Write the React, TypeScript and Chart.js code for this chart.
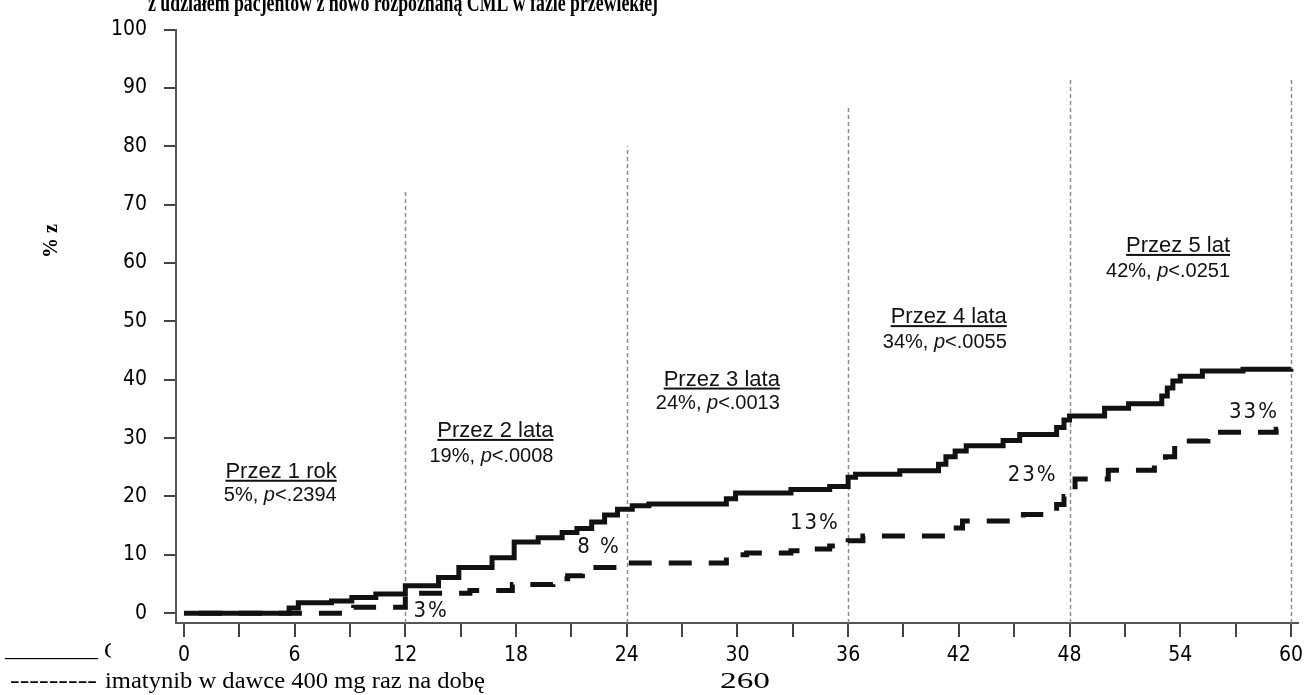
import React, { useEffect, useRef } from "react";
import { Chart, registerables } from "chart.js";

Chart.register(...registerables);

// ---- data ----
const solidMonths = [0, 5.7, 6.2, 8.0, 9.1, 10.4, 12.0, 13.8, 14.9, 16.7, 17.9, 19.2, 20.5, 21.3, 22.1, 22.8, 23.5, 24.3, 25.2, 29.4, 29.9, 32.9, 35.0, 36.0, 36.4, 38.8, 40.9, 41.3, 41.8, 42.4, 44.4, 45.3, 47.3, 47.7, 48.0, 49.9, 51.2, 53.0, 53.3, 53.6, 54.0, 55.2, 57.4, 60.0];
const solidValues = [0, 0.9, 1.8, 2.1, 2.7, 3.3, 4.7, 6.1, 7.8, 9.5, 12.2, 12.9, 13.8, 14.5, 15.6, 16.8, 17.8, 18.4, 18.7, 19.6, 20.6, 21.2, 21.7, 23.3, 23.8, 24.4, 25.5, 26.8, 27.8, 28.7, 29.6, 30.6, 31.8, 33.1, 33.8, 35.1, 35.9, 37.2, 38.6, 39.8, 40.6, 41.5, 41.8, 41.9];

const dashedMonths = [0, 9.2, 12.0, 15.5, 17.8, 20.0, 20.8, 21.6, 23.6, 29.4, 30.5, 32.9, 34.0, 35.0, 36.0, 36.8, 41.7, 42.2, 45.5, 47.3, 47.7, 48.0, 48.3, 50.1, 52.6, 53.2, 53.7, 54.3, 55.5, 59.2, 59.4];
const dashedValues = [0, 1.0, 3.4, 3.9, 4.9, 5.9, 6.4, 7.8, 8.6, 10.0, 10.3, 10.7, 11.0, 11.5, 12.4, 13.2, 14.6, 15.8, 16.9, 18.6, 20.0, 20.8, 23.0, 24.5, 25.6, 26.8, 29.0, 29.5, 31.0, 31.5, 31.5];

const xTickValues = [0, 3, 6, 9, 12, 15, 18, 21, 24, 27, 30, 33, 36, 39, 42, 45, 48, 51, 54, 57, 60];
const xLabelValues = [0, 6, 12, 18, 24, 30, 36, 42, 48, 54, 60];
const yTickValues = [0, 10, 20, 30, 40, 50, 60, 70, 80, 90, 100];

const landmarkMonths = [12, 24, 36, 48, 60];
const landmarkTops = [72.5, 80, 87, 91.5, 91.5];

const annotTitles = ["Przez 1 rok", "Przez 2 lata", "Przez 3 lata", "Przez 4 lata", "Przez 5 lat"];
const annotPercents = ["5%", "19%", "24%", "34%", "42%"];
const annotPValues = ["<.2394", "<.0008", "<.0013", "<.0055", "<.0251"];
const annotRightMonth = [8.28, 20.03, 32.3, 44.6, 56.7];
const annotTitleLevel = [23.2, 30.2, 39.0, 49.7, 61.9];
const annotValueLevel = [19.3, 25.9, 34.9, 45.4, 57.6];

const pctLabels = ["3%", "8 %", "13%", "23%", "33%"];
const pctMonths = [13.4, 22.5, 34.2, 46.0, 58.0];
const pctLevels = [0.3, 11.3, 15.4, 23.6, 34.4];

const titleText = "z udziałem pacjentów z nowo rozpoznaną CML w fazie przewlekłej";
const yTitleText = "% z";
const legendSolidMark = "_______";
const legendSolidText = "C";
const legendDashMark = "---------";
const legendDashText = "imatynib w dawce 400 mg raz na dobę";
const legendExtra = "260";

const NARROW = '"Liberation Sans Narrow", "Arial Narrow", "DejaVu Sans Condensed", sans-serif';
const SANS = '"Liberation Sans", Arial, sans-serif';
const SERIF = '"Liberation Serif", "Times New Roman", serif';

function fitText(ctx: CanvasRenderingContext2D, text: string, x: number, y: number, width: number, font: string) {
  ctx.save();
  ctx.font = font;
  ctx.textAlign = "left";
  ctx.textBaseline = "alphabetic";
  const w = ctx.measureText(text).width;
  ctx.translate(x, y);
  ctx.scale(width / w, 1);
  ctx.fillText(text, 0, 0);
  ctx.restore();
}

const decorPlugin = {
  id: "decor",
  beforeDatasetsDraw(chart: any) {
    const { ctx, scales } = chart;
    const x = scales.x;
    const y = scales.y;
    ctx.save();
    ctx.strokeStyle = "#8c8c8c";
    ctx.lineWidth = 1.5;
    ctx.setLineDash([4, 3]);
    landmarkMonths.forEach((m, i) => {
      const px = Math.round(x.getPixelForValue(m)) + 0.5;
      ctx.beginPath();
      ctx.moveTo(px, y.bottom);
      ctx.lineTo(px, y.getPixelForValue(landmarkTops[i]));
      ctx.stroke();
    });
    ctx.restore();
  },
  afterDatasetsDraw(chart: any) {
    const { ctx, scales } = chart;
    const x = scales.x;
    const y = scales.y;
    ctx.save();
    ctx.fillStyle = "#111";
    annotTitles.forEach((t, i) => {
      const rx = x.getPixelForValue(annotRightMonth[i]);
      const ty = y.getPixelForValue(annotTitleLevel[i]);
      ctx.font = `22px ${SANS}`;
      ctx.textAlign = "right";
      ctx.textBaseline = "alphabetic";
      ctx.fillText(t, rx, ty);
      const tw = ctx.measureText(t).width;
      ctx.fillRect(rx - tw, ty + 2, tw, 2);
      const vy = y.getPixelForValue(annotValueLevel[i]);
      const parts = [
        { s: annotPercents[i] + ", ", f: `20px ${SANS}` },
        { s: "p", f: `italic 20px ${SANS}` },
        { s: annotPValues[i], f: `20px ${SANS}` },
      ];
      let total = 0;
      parts.forEach((p) => {
        ctx.font = p.f;
        total += ctx.measureText(p.s).width;
      });
      let cx = rx - total;
      ctx.textAlign = "left";
      parts.forEach((p) => {
        ctx.font = p.f;
        ctx.fillText(p.s, cx, vy);
        cx += ctx.measureText(p.s).width;
      });
    });
    ctx.font = `22px ${NARROW}`;
    (ctx as any).letterSpacing = "2px";
    ctx.textAlign = "center";
    ctx.textBaseline = "middle";
    pctLabels.forEach((t, i) => {
      ctx.fillText(t, x.getPixelForValue(pctMonths[i]), y.getPixelForValue(pctLevels[i]));
    });
    (ctx as any).letterSpacing = "0px";
    ctx.restore();
  },
  afterDraw(chart: any) {
    const { ctx } = chart;
    ctx.save();
    ctx.fillStyle = "#000";
    // cropped title (only its lower part is visible at the top edge)
    fitText(ctx, titleText, 148, 11, 510, `bold 26px ${SERIF}`);
    // y title rotated
    ctx.save();
    ctx.translate(52, 258);
    ctx.rotate(-Math.PI / 2);
    ctx.font = `bold 20px ${SERIF}`;
    ctx.textAlign = "left";
    ctx.textBaseline = "middle";
    ctx.fillText(yTitleText, 0, 0);
    ctx.restore();
    // legend
    fitText(ctx, legendSolidMark, 5, 656, 93, `24px ${SERIF}`);
    ctx.save();
    ctx.beginPath();
    ctx.rect(100, 630, 11, 40);
    ctx.clip();
    ctx.font = `24px ${SERIF}`;
    ctx.fillText(legendSolidText, 104, 658);
    ctx.restore();
    fitText(ctx, legendDashMark, 10, 688, 87, `24px ${SERIF}`);
    fitText(ctx, legendDashText, 105, 688, 380, `24px ${SERIF}`);
    fitText(ctx, legendExtra, 720, 688, 50, `24px ${SERIF}`);
    ctx.restore();
  },
};

export default function App() {
  const canvasRef = useRef<HTMLCanvasElement | null>(null);

  useEffect(() => {
    const canvas = canvasRef.current;
    if (!canvas) return;
    const tickFont = { family: NARROW, size: 21 };
    const chart = new Chart(canvas, {
      type: "line",
      data: {
        datasets: [
          {
            label: "solid",
            data: solidMonths.map((m, i) => ({ x: m, y: solidValues[i] })),
            borderColor: "#111",
            borderWidth: 5,
            pointRadius: 0,
            stepped: true,
            fill: false,
            borderCapStyle: "butt",
            borderJoinStyle: "miter",
          },
          {
            label: "imatynib w dawce 400 mg raz na dobę",
            data: dashedMonths.map((m, i) => ({ x: m, y: dashedValues[i] })),
            borderColor: "#111",
            borderWidth: 5,
            borderDash: [23, 17],
            borderDashOffset: 25,
            pointRadius: 0,
            stepped: true,
            fill: false,
            borderCapStyle: "butt",
            borderJoinStyle: "miter",
          },
        ],
      },
      options: {
        responsive: false,
        maintainAspectRatio: false,
        animation: false,
        layout: { padding: { left: 0, top: 23, right: 9, bottom: 0 } },
        plugins: { legend: { display: false }, tooltip: { enabled: false } },
        scales: {
          x: {
            type: "linear",
            min: -0.43,
            max: 60.38,
            afterBuildTicks: (s: any) => {
              s.ticks = xTickValues.map((v) => ({ value: v }));
            },
            afterFit: (s: any) => {
              s.height = 72;
            },
            grid: { drawOnChartArea: false, drawTicks: true, tickLength: 14, color: "#444", lineWidth: 2 },
            border: { display: true, color: "#555", width: 2 },
            ticks: {
              autoSkip: false,
              maxRotation: 0,
              padding: 6,
              color: "#000",
              font: tickFont,
              callback: (v: any) => (xLabelValues.includes(Number(v)) ? String(v) : ""),
            },
          },
          y: {
            type: "linear",
            min: -1.69,
            max: 100,
            afterBuildTicks: (s: any) => {
              s.ticks = yTickValues.map((v) => ({ value: v }));
            },
            afterFit: (s: any) => {
              s.width = 176;
            },
            grid: { drawOnChartArea: false, drawTicks: true, tickLength: 12, color: "#444", lineWidth: 2 },
            border: { display: true, color: "#555", width: 2 },
            ticks: {
              autoSkip: false,
              padding: 17,
              color: "#000",
              font: tickFont,
              callback: (v: any) => String(v),
            },
          },
        },
      },
      plugins: [decorPlugin],
    } as any);
    return () => chart.destroy();
  }, []);

  return (
    <div style={{ position: "fixed", left: 0, top: 0, width: 1309, height: 695, background: "#fff" }}>
      <canvas ref={canvasRef} width={1309} height={695} style={{ display: "block" }} />
    </div>
  );
}
